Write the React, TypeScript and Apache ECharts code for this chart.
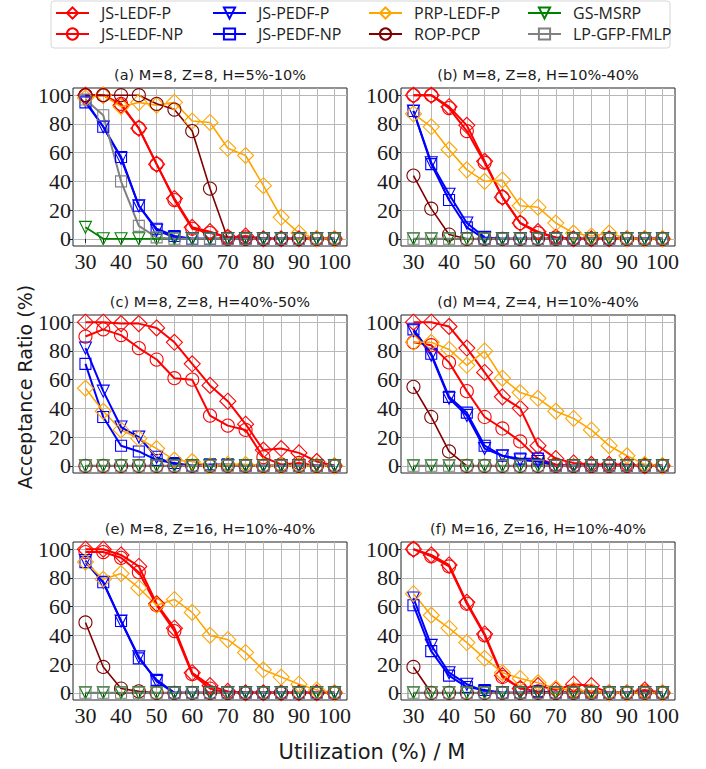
import React, { useEffect, useRef } from "react";
import * as echarts from "echarts";

// ---------- data ----------
const utilization = [30, 35, 40, 45, 50, 55, 60, 65, 70, 75, 80, 85, 90, 95, 100];
const xTickLabels = [30, 40, 50, 60, 70, 80, 90, 100];
const yTickLabels = [0, 20, 40, 60, 80, 100];

const seriesNames = [
  "JS-LEDF-P",
  "JS-LEDF-NP",
  "JS-PEDF-P",
  "JS-PEDF-NP",
  "PRP-LEDF-P",
  "ROP-PCP",
  "GS-MSRP",
  "LP-GFP-FMLP",
];

const panelTitles = [
  "(a) M=8, Z=8, H=5%-10%",
  "(b) M=8, Z=8, H=10%-40%",
  "(c) M=8, Z=8, H=40%-50%",
  "(d) M=4, Z=4, H=10%-40%",
  "(e) M=8, Z=16, H=10%-40%",
  "(f) M=16, Z=16, H=10%-40%",
];

const xAxisName = "Utilization (%) / M";
const yAxisName = "Acceptance Ratio (%)";

const zeros = [0, 0, 0, 0, 0, 0, 0, 0, 0, 0, 0, 0, 0, 0, 0];

// (a)
const aLedfP = [100, 100, 93, 77, 52, 28, 8, 5, 1, 2, 0, 0, 0, 0, 0];
const aLedfNP = [100, 100, 94, 77, 52, 27, 7, 4, 1, 1, 0, 0, 0, 0, 0];
const aPedfP = [96, 78, 56, 23, 6, 1, 0, 0, 0, 0, 0, 0, 0, 0, 0];
const aPedfNP = [95, 78, 57, 23, 7, 2, 0, 0, 0, 0, 0, 0, 0, 0, 0];
const aPrp = [98, 100, 92, 95, 93, 95, 82, 81, 63, 58, 37, 15, 4, 0, 0];
const aRop = [100, 100, 100, 100, 94, 90, 75, 35, 0, 0, 0, 0, 0, 0, 0];
const aGs = [8, 0, 0, 0, 0, 0, 0, 0, 0, 0, 0, 0, 0, 0, 0];
const aLp = [97, 86, 40, 9, 1, 0, 0, 0, 0, 0, 0, 0, 0, 0, 0];

// (b)
const bLedfP = [100, 100, 92, 79, 54, 29, 11, 5, 1, 0, 0, 0, 0, 0, 0];
const bLedfNP = [100, 100, 91, 75, 53, 29, 11, 4, 1, 0, 0, 0, 0, 0, 0];
const bPedfP = [89, 53, 31, 11, 1, 0, 0, 0, 0, 0, 0, 0, 0, 0, 0];
const bPedfNP = [89, 52, 27, 8, 0, 0, 0, 0, 0, 0, 0, 0, 0, 0, 0];
const bPrp = [87, 78, 62, 48, 40, 41, 23, 22, 11, 4, 2, 4, 0, 0, 0];
const bRop = [44, 21, 3, 0, 0, 0, 0, 0, 0, 0, 0, 0, 0, 0, 0];
const bGs = zeros;
const bLp = zeros;

// (c)
const cLedfP = [100, 100, 99, 99, 96, 86, 71, 56, 45, 29, 11, 12, 9, 3, 0];
const cLedfNP = [90, 95, 91, 82, 74, 61, 60, 35, 28, 25, 6, 1, 2, 0, 0];
const cPedfP = [82, 52, 27, 20, 6, 1, 0, 0, 0, 0, 0, 0, 0, 0, 0];
const cPedfNP = [71, 34, 14, 10, 4, 2, 0, 1, 1, 0, 0, 0, 0, 0, 0];
const cPrp = [54, 38, 25, 19, 12, 4, 3, 0, 1, 1, 0, 0, 0, 0, 0];
const cRop = zeros;
const cGs = zeros;
const cLp = zeros;

// (d)
const dLedfP = [100, 100, 97, 82, 65, 48, 40, 14, 5, 2, 1, 1, 1, 0, 0];
const dLedfNP = [86, 84, 72, 52, 34, 26, 17, 5, 1, 0, 0, 0, 0, 0, 0];
const dPedfP = [94, 77, 47, 35, 12, 7, 4, 3, 0, 0, 0, 0, 0, 0, 0];
const dPedfNP = [95, 78, 48, 37, 14, 7, 5, 5, 0, 0, 0, 0, 0, 0, 0];
const dPrp = [86, 86, 81, 70, 80, 61, 51, 47, 38, 33, 25, 14, 7, 1, 0];
const dRop = [55, 34, 10, 0, 0, 0, 0, 0, 0, 0, 0, 0, 0, 0, 0];
const dGs = zeros;
const dLp = zeros;

// (e)
const eLedfP = [100, 100, 96, 88, 62, 45, 14, 5, 1, 0, 0, 0, 0, 0, 0];
const eLedfNP = [98, 98, 94, 84, 61, 43, 13, 3, 0, 0, 0, 0, 0, 0, 0];
const ePedfP = [92, 77, 50, 25, 8, 0, 0, 0, 0, 0, 0, 0, 0, 0, 0];
const ePedfNP = [91, 77, 50, 24, 9, 0, 0, 0, 0, 0, 0, 0, 0, 0, 0];
const ePrp = [91, 79, 83, 73, 61, 65, 56, 40, 37, 28, 16, 11, 6, 2, 0];
const eRop = [49, 18, 3, 1, 0, 0, 0, 0, 0, 0, 0, 0, 0, 0, 0];
const eGs = zeros;
const eLp = zeros;

// (f)
const fLedfP = [100, 96, 89, 63, 41, 12, 3, 5, 2, 6, 5, 0, 0, 2, 0];
const fLedfNP = [100, 95, 88, 62, 40, 11, 3, 1, 0, 1, 1, 0, 0, 1, 0];
const fPedfP = [66, 33, 14, 6, 1, 0, 0, 0, 0, 0, 0, 0, 0, 0, 0];
const fPedfNP = [61, 29, 12, 4, 2, 0, 0, 1, 0, 0, 0, 0, 0, 0, 0];
const fPrp = [69, 54, 45, 35, 24, 14, 10, 7, 3, 2, 1, 0, 0, 0, 0];
const fRop = [18, 0, 0, 0, 0, 0, 0, 0, 0, 0, 0, 0, 0, 0, 0];
const fGs = zeros;
const fLp = zeros;

const panels = [
  [aLedfP, aLedfNP, aPedfP, aPedfNP, aPrp, aRop, aGs, aLp],
  [bLedfP, bLedfNP, bPedfP, bPedfNP, bPrp, bRop, bGs, bLp],
  [cLedfP, cLedfNP, cPedfP, cPedfNP, cPrp, cRop, cGs, cLp],
  [dLedfP, dLedfNP, dPedfP, dPedfNP, dPrp, dRop, dGs, dLp],
  [eLedfP, eLedfNP, ePedfP, ePedfNP, ePrp, eRop, eGs, eLp],
  [fLedfP, fLedfNP, fPedfP, fPedfNP, fPrp, fRop, fGs, fLp],
];

// ---------- styles ----------
const seriesStyles = [
  { color: "#ff0000", symbol: "diamond", size: 16, rotate: 0, width: 2 },
  { color: "#ff0000", symbol: "circle", size: 13, rotate: 0, width: 2 },
  { color: "#0000ff", symbol: "triangle", size: 12, rotate: 180, width: 2 },
  { color: "#0000ff", symbol: "rect", size: 11, rotate: 0, width: 2 },
  { color: "#ffa500", symbol: "diamond", size: 16, rotate: 0, width: 1.6 },
  { color: "#800000", symbol: "circle", size: 13, rotate: 0, width: 1.6 },
  { color: "#008000", symbol: "triangle", size: 12, rotate: 180, width: 1.8 },
  { color: "#808080", symbol: "rect", size: 11, rotate: 0, width: 2 },
];

const gridLefts = [73, 401];
const gridTops = [88, 315, 542];
const gridWidth = 274;
const gridHeight = 158;
const legendLefts = [55, 212, 368, 527];

const tickFont = "Liberation Serif";
const tickSize = 22;
const sansFont = "DejaVu Sans";
const inkColor = "#1a1a1a";
const gridLineColor = "#b8b8b8";

const tickTextStyle = {
  fontFamily: tickFont,
  fontSize: tickSize,
  color: inkColor,
};

export default function App() {
  const ref = useRef<HTMLDivElement>(null);

  useEffect(() => {
    if (!ref.current) return;
    const chart = echarts.init(ref.current, undefined, { renderer: "svg" });

    const grids = panels.map((_, i) => ({
      left: gridLefts[i % 2],
      top: gridTops[Math.floor(i / 2)],
      width: gridWidth,
      height: gridHeight,
      show: true,
      borderColor: "#222",
      borderWidth: 1,
      backgroundColor: "transparent",
      containLabel: false,
      outerBoundsMode: "none",
    }));

    const xAxes = panels.map((_, i) => ({
      type: "value",
      gridIndex: i,
      min: 26.5,
      max: 103.5,
      axisLine: { show: false },
      axisTick: {
        show: true,
        customValues: utilization,
        length: 4,
        lineStyle: { color: "#222", width: 1 },
      },
      axisLabel: {
        show: Math.floor(i / 2) !== 1,
        customValues: xTickLabels,
        ...tickTextStyle,
        margin: 4,
        hideOverlap: false,
      },
      splitLine: { show: true, lineStyle: { color: gridLineColor, width: 1 } },
    }));

    const yAxes = panels.map((_, i) => ({
      type: "value",
      gridIndex: i,
      min: -5,
      max: 105,
      axisLine: { show: false },
      axisTick: {
        show: true,
        customValues: yTickLabels,
        length: 4,
        lineStyle: { color: "#222", width: 1 },
      },
      axisLabel: {
        customValues: yTickLabels,
        ...tickTextStyle,
        margin: 2,
        hideOverlap: false,
      },
      splitLine: { show: true, lineStyle: { color: gridLineColor, width: 1 } },
    }));

    const series: any[] = [];
    panels.forEach((panel, p) => {
      panel.forEach((values, s) => {
        const st = seriesStyles[s];
        series.push({
          type: "line",
          name: seriesNames[s],
          xAxisIndex: p,
          yAxisIndex: p,
          data: utilization.map((x, k) => [x, values[k]]),
          symbol: st.symbol,
          symbolSize: st.size,
          symbolRotate: st.rotate,
          showAllSymbol: true,
          lineStyle: { color: st.color, width: st.width },
          itemStyle: { color: "rgba(255,255,255,0)", borderColor: st.color, borderWidth: 1.1 },
          emphasis: { disabled: true },
          silent: true,
        });
      });
    });

    const legends = [0, 1, 2, 3].map((c) => ({
      orient: "vertical",
      left: legendLefts[c],
      top: 3,
      padding: 0,
      itemWidth: 33,
      itemHeight: 14,
      itemGap: 1,
      selectedMode: false,
      data: [seriesNames[2 * c], seriesNames[2 * c + 1]],
      textStyle: {
        fontFamily: "Open Sans",
        fontSize: 16,
        color: "#222",
        lineHeight: 20,
        padding: [0, 0, 0, 7],
      },
    }));

    const titleTexts = panelTitles.map((t, i) => ({
      type: "text",
      x: gridLefts[i % 2] + gridWidth / 2,
      y: gridTops[Math.floor(i / 2)] - 13,
      style: {
        text: t,
        font: `14.5px "${sansFont}"`,
        fill: inkColor,
        align: "center",
        verticalAlign: "middle",
      },
    }));

    chart.setOption({
      animation: false,
      backgroundColor: "#ffffff",
      grid: grids,
      xAxis: xAxes,
      yAxis: yAxes,
      series,
      legend: legends,
      graphic: [
        {
          type: "rect",
          z: -1,
          shape: { x: 51, y: 1, width: 619, height: 47, r: 3 },
          style: { fill: "#ffffff", stroke: "#d6d6d6", lineWidth: 1 },
        },
        ...titleTexts,
        {
          type: "text",
          x: 372,
          y: 752,
          style: {
            text: xAxisName,
            font: `21px "${sansFont}"`,
            fill: inkColor,
            align: "center",
            verticalAlign: "middle",
          },
        },
        {
          type: "text",
          x: 25,
          y: 387,
          rotation: Math.PI / 2,
          style: {
            text: yAxisName,
            font: `19px "${sansFont}"`,
            fill: inkColor,
            align: "center",
            verticalAlign: "middle",
          },
        },
      ],
    });

    return () => chart.dispose();
  }, []);

  return (
    <div
      ref={ref}
      style={{ position: "absolute", left: 0, top: 0, width: 706, height: 769 }}
    />
  );
}
